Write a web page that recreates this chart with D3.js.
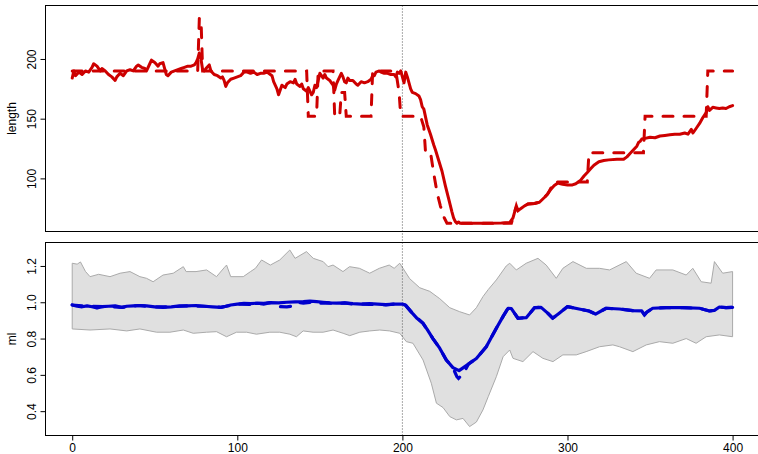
<!DOCTYPE html>
<html>
<head>
<meta charset="utf-8">
<script src="https://cdn.jsdelivr.net/npm/d3@7"></script>
<style>
  body { margin: 0; background: #fff; }
  text { font-family: "Liberation Sans", Arial, sans-serif; }
</style>
</head>
<body>
<div id="wrapper"></div>
<script>
// length, solid line
const lenX = [0,1,2,4,6,8,10,12,13,15,17,18,20,22,24,26,27,29,31,33,35,37,39,40,42,44,45,47,48,50,52,53,55,56,57,58,60,62,64,66,68,70,72,74,75,76,77,78,79,80,81,83,84,86,88,90,91,92,93,94,96,98,100,102,104,106,108,110,112,114,116,118,120,121,122,124,125,126,127,129,130,132,134,135,136,138,139,140,142,143,145,146,147,148,149,150,151,152,153,154,156,157,158,159,160,161,162,163,164,165,166,167,168,170,172,173,175,177,179,181,182,183,184,186,187,189,191,193,195,196,197,198,199,200,201,202,203,204,205,206,208,210,211,212,213,215,217,219,220,222,224,226,228,230,231,232,233,234,235,240,250,260,265,267,268,269,270,272,274,276,280,283,286,288,290,292,294,297,300,303,305,308,310,312,314,316,319,322,325,330,334,336,338,340,342,343,344,345,347,350,353,356,359,362,365,368,371,373,375,376,378,380,382,384,385,386,388,390,392,394,396,398,400]
const lenY = [184,190,186,189,187,190,189,193,196,194,190,192,190,187,185,182,185,188,186,190,191,190,194,195,193,192,190,196,199,197,194,196,197,192,187,186,189,190,191,192,193,194,194,195,197,200,205,200,191,190,192,195,190,187,186,184,185,182,177,180,183,184,185,186,189,189,188,189,187,188,188,189,187,186,181,175,170,174,178,176,179,181,180,183,179,177,179,175,173,176,170,172,178,176,182,188,186,184,187,184,182,180,178,174,179,182,185,188,185,181,180,184,182,182,179,178,181,180,181,183,186,186,189,190,189,188,188,187,187,185,189,188,190,185,180,189,185,180,175,172,171,169,166,160,158,145,137,128,124,115,106,94,83,72,67,64,62.5,63.5,62.5,62.4,62.4,62.6,63,67,72,76,73,75,77,78.5,79,80,84,87,91,94,96,95,94.5,94.5,95.5,98.5,102,105,108,111,114,115,115.5,116,116,118,121,124,127,130,131,133,133.5,134.5,134,135.5,136,136.5,137,137,138,137,141,138,142,146,151,155,160,157,159.5,159,158.5,159,158.5,160,161]

// length, dashed line
const lenDashX = [0,76,77,78,79,142,143,148,149,158,159,162,163,165,166,181,182,196,198,199,211,213,214,217,219,221,223,225,227,266,268,269,270,272,274,276,280,283,286,288,290,291,312,313,346,347,384,385,400]
const lenDashY = [190,190,234,234,190,190,152,152,190,190,152,152,172,172,152,152,190,190,172,152,152,143,122,122,104,88,77,68,62.4,62.4,72,77,73,75,77,78.5,79,80,84,87,92,97,97,121.5,121.5,152,152,190,190]

// ml, solid line
const mlX = [0,3,6,9,12,15,18,22,26,30,33,37,41,45,50,55,60,65,70,75,80,85,90,93,96,100,104,108,112,116,120,125,130,135,140,144,148,152,156,160,165,170,175,180,185,190,195,200,202,206,209,212.5,215,218.5,222.6,226.6,230.6,234.3,238.7,244.8,250.8,256.9,260.9,264,266,270,275,280,284,288,291,295,300,307,313,317,323.4,331.5,339.5,345,346.6,348,351.6,359.7,369.8,380,386,389,392,396,400]
const mlY = [0.985,0.978,0.975,0.98,0.975,0.968,0.976,0.978,0.98,0.972,0.978,0.98,0.982,0.98,0.975,0.972,0.975,0.98,0.98,0.982,0.978,0.975,0.972,0.978,0.985,0.99,0.994,0.992,0.995,0.994,0.998,0.997,1.0,1.002,1.003,1.006,1.003,1.0,0.997,0.995,0.997,0.992,0.99,0.992,0.99,0.987,0.99,0.99,0.983,0.94,0.91,0.884,0.85,0.8,0.747,0.682,0.64,0.623,0.651,0.69,0.755,0.857,0.921,0.967,0.965,0.912,0.915,0.97,0.972,0.94,0.912,0.94,0.976,0.963,0.952,0.935,0.967,0.963,0.954,0.952,0.93,0.945,0.967,0.97,0.97,0.967,0.952,0.955,0.974,0.97,0.972]

// ml, dashed line
const mlDashX = [0,10,20,30,40,50,60,70,80,90,100,108,112,116,120,124,126,130,133,136,140,145,150,155,160,165,170,175,180,185,190,195,200,202,206,212.5,218.5,222.6,226.6,230.6,233,234,236,238,240,244.8,250.8,256.9,260.9,264,266,270,275,280,284,288,291,295,300,307,313,317,323.4,331.5,339.5,345,346.6,348,351.6,359.7,369.8,380,386,389,392,396,400]
const mlDashY = [0.985,0.978,0.976,0.972,0.982,0.975,0.975,0.98,0.978,0.972,0.99,0.988,0.995,0.99,0.998,0.985,0.976,0.975,0.978,1.0,0.995,1.0,0.995,0.997,0.99,0.997,0.99,0.99,0.988,0.99,0.985,0.99,0.99,0.983,0.94,0.884,0.8,0.747,0.682,0.64,0.59,0.58,0.60,0.625,0.66,0.69,0.755,0.857,0.921,0.967,0.965,0.912,0.915,0.97,0.972,0.94,0.912,0.94,0.976,0.963,0.952,0.935,0.967,0.963,0.954,0.952,0.93,0.945,0.967,0.97,0.97,0.967,0.952,0.955,0.974,0.97,0.972]

// grey band around ml
const upX = [0,3,5,8,10.8,16,22.9,29,35,41,45,49,55,61.2,67.3,69,75,81.4,87.4,92,93.5,96,103.6,108,111,114.7,120,125.7,131.8,135,141.9,146,152,155,158,164,168,174,180.2,186,192,195,198.4,204.4,210.5,216.6,222.6,228.7,234.7,240.7,244.8,248.8,252,256.9,262.9,265,269,275,282.1,287.1,293.2,297.2,303.3,311.4,319.4,325.5,335.6,341.6,349.7,353.7,363.8,371.9,375.9,381,387,389,394,400]
const upY = [1.215,1.21,1.222,1.17,1.141,1.154,1.141,1.16,1.169,1.141,1.132,1.113,1.15,1.16,1.196,1.169,1.169,1.178,1.141,1.19,1.205,1.141,1.141,1.169,1.187,1.233,1.205,1.233,1.288,1.242,1.279,1.242,1.224,1.196,1.205,1.169,1.196,1.187,1.16,1.187,1.205,1.187,1.215,1.13,1.08,1.06,1.02,0.97,0.948,0.93,0.97,1.031,1.07,1.123,1.2,1.215,1.178,1.215,1.242,1.205,1.132,1.187,1.224,1.187,1.187,1.178,1.224,1.16,1.132,1.178,1.178,1.15,1.187,1.113,1.105,1.224,1.16,1.169]
const loX = [0,10.8,22.9,33,41,51.1,59.2,67.3,73.3,81.4,87.4,93.5,99.5,105.6,111.6,119.7,125.7,131.8,135.8,139.9,145.9,152,158,164.1,168.1,174.2,180.2,186.3,192.3,198.4,202.4,206.4,212.5,217.5,220.6,224.6,228.7,232.7,236.7,240.7,244.8,248.8,252,256.9,261,265,267,273,279.1,285.1,291.2,297.2,305.3,311.3,319.4,327.5,331.5,339.6,347.7,355.7,363.8,371.9,377.9,384,392,400]
const loY = [0.853,0.847,0.853,0.842,0.853,0.835,0.835,0.847,0.829,0.835,0.838,0.81,0.835,0.835,0.824,0.835,0.835,0.824,0.81,0.842,0.835,0.835,0.847,0.829,0.816,0.835,0.842,0.847,0.842,0.829,0.783,0.774,0.682,0.554,0.444,0.42,0.37,0.352,0.36,0.315,0.34,0.407,0.48,0.59,0.7,0.737,0.691,0.673,0.728,0.691,0.673,0.71,0.71,0.728,0.755,0.765,0.755,0.728,0.765,0.783,0.774,0.8,0.774,0.81,0.82,0.81]

const xTicks = [0, 100, 200, 300, 400]
const lenTicks = [100, 150, 200]
const mlTicks = [0.4, 0.6, 0.8, 1.0, 1.2]
const changePoint = 200

function drawChart() {
  const dimensions = {
    width: 758,
    height: 454,
    left: 45.5,
    right: 759,
    top1: 5.5, bottom1: 231.5,
    top2: 242.5, bottom2: 435.5
  }

  const svg = d3.select("#wrapper")
    .append("svg")
      .attr("width", dimensions.width)
      .attr("height", dimensions.height)

  const xScale = d3.scaleLinear()
      .domain([-16, 416])
      .range([45.8, 759])

  const lenScale = d3.scaleLinear()
      .domain([55.1, 245.2])
      .range([232, 5])

  const mlScale = d3.scaleLinear()
      .domain([0.267, 1.332])
      .range([435.3, 242])

  // grey band (upper forward, lower backwards)
  const bandPts = upX.map((x, i) => [x, upY[i]])
    .concat(loX.map((x, i) => [x, loY[i]]).reverse())
  svg.append("path")
      .attr("d", d3.line().x(d => xScale(d[0])).y(d => mlScale(d[1]))(bandPts) + "Z")
      .attr("fill", "#e0e0e0")
      .attr("stroke", "#aaaaaa")
      .attr("stroke-width", 1)

  // change point
  svg.append("line")
      .attr("x1", xScale(changePoint)).attr("x2", xScale(changePoint))
      .attr("y1", dimensions.top1).attr("y2", dimensions.bottom2)
      .attr("stroke", "#555")
      .attr("stroke-dasharray", "1,2")

  const pts = (xs, ys) => xs.map((x, i) => [x, ys[i]])

  const lenLine = d3.line().x(d => xScale(d[0])).y(d => lenScale(d[1]))
  const mlLine = d3.line().x(d => xScale(d[0])).y(d => mlScale(d[1]))

  svg.append("path")
      .attr("d", lenLine(pts(lenX, lenY)))
      .attr("fill", "none")
      .attr("stroke", "#cd0000")
      .attr("stroke-width", 3)
      .attr("stroke-linejoin", "round")
      .attr("stroke-linecap", "round")

  svg.append("path")
      .attr("d", lenLine(pts(lenDashX, lenDashY)))
      .attr("fill", "none")
      .attr("stroke", "#cd0000")
      .attr("stroke-width", 3)
      .attr("stroke-dasharray", "10,11")
      .attr("stroke-linecap", "round")

  svg.append("path")
      .attr("d", mlLine(pts(mlX, mlY)))
      .attr("fill", "none")
      .attr("stroke", "#0000cd")
      .attr("stroke-width", 3.2)
      .attr("stroke-linejoin", "round")
      .attr("stroke-linecap", "round")

  svg.append("path")
      .attr("d", mlLine(pts(mlDashX, mlDashY)))
      .attr("fill", "none")
      .attr("stroke", "#0000cd")
      .attr("stroke-width", 3.2)
      .attr("stroke-dasharray", "10,11")
      .attr("stroke-linecap", "round")

  // panel boxes
  svg.append("rect")
      .attr("x", dimensions.left).attr("y", dimensions.top1)
      .attr("width", dimensions.right - dimensions.left)
      .attr("height", dimensions.bottom1 - dimensions.top1)
      .attr("fill", "none").attr("stroke", "#000")
  svg.append("rect")
      .attr("x", dimensions.left).attr("y", dimensions.top2)
      .attr("width", dimensions.right - dimensions.left)
      .attr("height", dimensions.bottom2 - dimensions.top2)
      .attr("fill", "none").attr("stroke", "#000")

  // y axes with rotated labels
  const yAxis = (scale, ticks, fmt) => g => {
    g.call(d3.axisLeft(scale).tickValues(ticks).tickSize(5).tickFormat(fmt))
    g.select(".domain").remove()
    g.selectAll(".tick line").attr("stroke", "#000")
    g.selectAll(".tick text")
      .attr("x", 0).attr("y", 0).attr("dy", null)
      .attr("transform", "translate(-10,0) rotate(-90)")
      .attr("text-anchor", "middle")
      .attr("fill", "#000")
      .style("font-size", "12px")
  }
  svg.append("g")
      .attr("transform", `translate(${dimensions.left},0)`)
      .call(yAxis(lenScale, lenTicks, d3.format("d")))
  svg.append("g")
      .attr("transform", `translate(${dimensions.left},0)`)
      .call(yAxis(mlScale, mlTicks, d3.format(".1f")))

  // x axis
  const xAxis = svg.append("g")
      .attr("transform", `translate(0,${dimensions.bottom2})`)
      .call(d3.axisBottom(xScale).tickValues(xTicks).tickSize(5))
  xAxis.select(".domain").remove()
  xAxis.selectAll(".tick text")
      .attr("y", 16.5).attr("dy", null)
      .attr("fill", "#000")
      .style("font-size", "12px")

  // axis titles
  svg.append("text")
      .attr("transform", `translate(16,${(dimensions.top1 + dimensions.bottom1) / 2}) rotate(-90)`)
      .attr("text-anchor", "middle")
      .style("font-size", "12px")
      .text("length")
  svg.append("text")
      .attr("transform", `translate(16,${(dimensions.top2 + dimensions.bottom2) / 2}) rotate(-90)`)
      .attr("text-anchor", "middle")
      .style("font-size", "12px")
      .text("ml")
}
drawChart()
</script>
</body>
</html>
